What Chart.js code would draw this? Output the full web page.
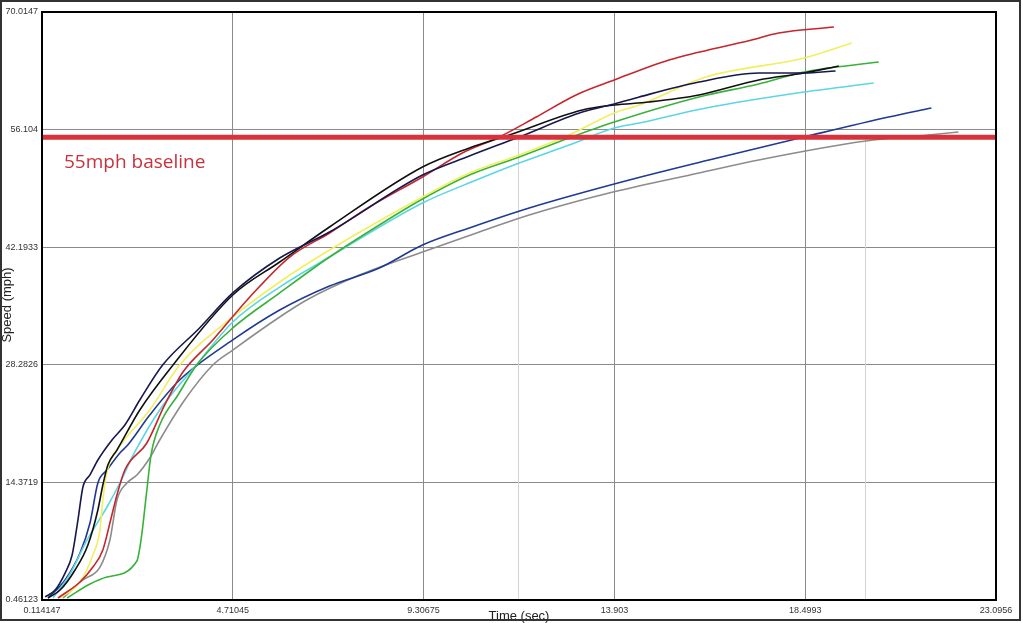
<!DOCTYPE html>
<html>
<head>
<meta charset="utf-8">
<script src="https://cdn.jsdelivr.net/npm/chart.js@4"></script>
<style>
  html, body { margin: 0; padding: 0; background: #fff; }
  #wrap { width: 1023px; height: 623px; }
</style>
</head>
<body>
<div id="wrap"><canvas id="runChart" width="1023" height="623"></canvas></div>
<script>
/* speed vs time runs, [time sec, speed mph] */

const X_TICKS = [0.114147, 4.71045, 9.30675, 13.903, 18.4993, 23.0956];
const Y_TICKS = [0.46123, 14.3719, 28.2826, 42.1933, 56.104, 70.0147];

const BASELINE_MPH = 55.2;
const BASELINE_LABEL = '55mph baseline';
const MARKER_TIMES = [11.58, 19.93];

const redRun = [
  [0.50,0.70],[1.03,2.59],[1.34,4.36],[1.58,6.38],[1.75,9.57],[1.92,12.88],[2.11,15.84],
  [2.64,19.03],[3.07,23.53],[3.51,27.43],[4.23,31.22],[5.12,36.30],[6.08,41.03],[7.04,43.87],
  [8.00,46.95],[9.28,50.50],[10.24,53.34],[11.13,55.23],[12.02,57.59],[12.98,60.20],
  [13.90,61.97],[15.22,64.34],[17.21,66.70],[17.86,67.53],[19.19,68.24]
];
const yellowRun = [
  [0.55,0.70],[1.03,2.59],[1.34,5.78],[1.51,8.74],[1.58,12.29],[1.65,14.89],[1.75,16.78],
  [2.06,19.15],[2.71,22.94],[3.43,28.26],[4.71,33.94],[5.84,38.08],[7.04,41.86],[9.28,48.13],
  [10.41,50.97],[11.61,53.10],[12.81,55.46],[13.90,58.07],[14.50,59.01],[16.11,62.33],
  [18.47,64.57],[19.62,66.35]
];
const greenRun = [
  [0.72,0.70],[1.27,2.35],[1.68,3.18],[2.40,5.07],[2.50,7.56],[2.64,13.47],[2.74,17.61],
  [2.95,21.16],[3.39,24.71],[3.84,28.26],[4.71,32.64],[5.84,36.78],[7.04,41.03],[8.24,44.82],
  [9.28,47.89],[10.41,50.73],[11.61,52.86],[12.81,55.11],[13.90,57.00],[15.94,59.96],
  [17.38,61.50],[18.47,62.92],[20.27,64.10]
];
const cyanRun = [
  [0.38,0.70],[0.79,3.54],[1.20,7.56],[1.68,11.46],[1.99,14.30],[2.35,17.97],[2.95,22.94],
  [3.79,28.02],[4.71,33.35],[5.84,37.48],[7.04,41.03],[9.28,47.42],[10.58,50.14],[11.61,52.15],
  [12.81,54.28],[13.90,56.29],[14.50,56.88],[16.11,58.66],[18.47,60.55],[20.15,61.61]
];
const blueRun = [
  [0.26,0.70],[0.67,2.83],[1.03,6.02],[1.27,9.57],[1.46,14.30],[1.68,15.84],[1.99,17.85],
  [2.18,18.80],[2.71,22.34],[3.43,26.48],[4.71,31.22],[5.84,34.76],[7.04,37.60],[8.24,39.73],
  [9.28,42.45],[10.41,44.47],[11.85,46.83],[14.26,50.14],[16.18,52.51],[18.47,55.23],
  [20.51,57.59],[21.54,58.66]
];
const grayRun = [
  [0.62,0.70],[1.10,2.83],[1.51,4.36],[1.75,7.56],[1.92,12.29],[2.16,14.30],[2.40,15.25],
  [2.71,17.26],[2.95,19.39],[3.55,24.12],[4.23,28.26],[4.71,30.03],[5.84,33.94],[6.49,35.95],
  [7.76,38.90],[9.28,41.62],[10.65,43.99],[11.85,46.00],[13.87,48.72],[15.94,50.97],
  [17.38,52.51],[19.96,54.75],[21.47,55.46],[22.19,55.82]
];
const navyRun = [
  [0.19,0.82],[0.43,1.64],[0.67,3.65],[0.84,5.78],[0.98,9.92],[1.10,13.83],[1.27,15.25],
  [1.46,17.02],[1.80,19.39],[2.11,21.16],[2.47,24.12],[3.02,28.26],[3.91,32.64],[4.71,36.78],
  [5.84,40.91],[7.04,43.99],[9.28,50.73],[10.41,52.98],[11.61,55.23],[13.13,58.18],
  [13.90,59.13],[14.50,59.96],[15.94,61.73],[17.38,62.80],[18.47,62.80],[19.23,63.04]
];
const blackRun = [
  [0.26,0.70],[0.55,1.64],[0.91,4.01],[1.22,6.97],[1.46,11.11],[1.58,14.06],[1.70,16.43],
  [1.92,18.20],[2.47,22.94],[3.27,28.26],[4.71,36.54],[5.84,40.44],[7.04,44.58],[9.28,51.68],
  [10.41,53.93],[11.37,55.46],[13.13,58.42],[13.90,59.01],[14.74,59.37],[15.94,60.20],
  [17.38,61.97],[18.47,62.80],[19.31,63.63]
];

const RUNS = [
  { pts: grayRun,   color: '#8c8c8c' },
  { pts: blueRun,   color: '#1f3a94' },
  { pts: cyanRun,   color: '#5cd6e4' },
  { pts: greenRun,  color: '#38b238' },
  { pts: yellowRun, color: '#f2ef5c' },
  { pts: redRun,    color: '#c4262c' },
  { pts: blackRun,  color: '#101010' },
  { pts: navyRun,   color: '#17174e' }
];

const toXY = pts => pts.map(([x, y]) => ({ x, y }));

const datasets = [{
  label: 'baseline',
  data: [{ x: X_TICKS[0], y: BASELINE_MPH }, { x: X_TICKS[X_TICKS.length - 1], y: BASELINE_MPH }],
  borderColor: '#d8323c', borderWidth: 5, pointRadius: 0
}];
// dataset 0 ends up on top, so push in reverse of RUNS order
RUNS.slice().reverse().forEach((r, i) => {
  datasets.push({
    label: 'run' + i, data: toXY(r.pts),
    borderColor: r.color, borderWidth: 1.6, pointRadius: 0,
    cubicInterpolationMode: 'monotone'
  });
});

const TICK_FONT = { family: "'Liberation Sans', Arial, sans-serif", size: 9 };

// extra drawing: faint markers, plot box, baseline text, axis titles, outer frame
const decor = {
  id: 'decor',
  beforeDatasetsDraw(chart) {
    const { ctx, scales: { x, y }, chartArea } = chart;
    ctx.save();
    ctx.strokeStyle = '#d4d4d4';
    ctx.lineWidth = 1;
    MARKER_TIMES.forEach(t => {
      const px = Math.round(x.getPixelForValue(t)) + 0.5;
      ctx.beginPath();
      ctx.moveTo(px, y.getPixelForValue(BASELINE_MPH));
      ctx.lineTo(px, chartArea.bottom);
      ctx.stroke();
    });
    ctx.restore();
  },
  afterDatasetsDraw(chart) {
    const { ctx, chartArea: a, scales: { y } } = chart;
    ctx.save();
    ctx.strokeStyle = '#000';
    ctx.lineWidth = 2;
    ctx.strokeRect(a.left, a.top, a.right - a.left, a.bottom - a.top);

    ctx.fillStyle = '#c8323c';
    ctx.font = "19px 'Open Sans', sans-serif";
    ctx.textBaseline = 'middle';
    ctx.fillText(BASELINE_LABEL, a.left + 22, y.getPixelForValue(BASELINE_MPH) + 25);
    ctx.restore();
  },
  afterDraw(chart) {
    const { ctx, chartArea: a } = chart;
    ctx.save();
    ctx.fillStyle = '#222';
    ctx.font = "13px 'Liberation Sans', Arial, sans-serif";
    ctx.textAlign = 'center';
    ctx.textBaseline = 'middle';
    ctx.fillText('Time (sec)', (a.left + a.right) / 2, 616);
    ctx.translate(7, 305);
    ctx.rotate(-Math.PI / 2);
    ctx.fillText('Speed (mph)', 0, 0);
    ctx.restore();

    ctx.save();
    ctx.strokeStyle = '#333';
    ctx.lineWidth = 2;
    ctx.strokeRect(1, 1, 1019, 619);
    ctx.restore();
  }
};

new Chart(document.getElementById('runChart'), {
  type: 'line',
  data: { datasets },
  options: {
    responsive: false,
    devicePixelRatio: 1,
    animation: false,
    events: [],
    layout: { padding: { top: 12, right: 27, left: 0, bottom: 0 } },
    plugins: { legend: { display: false }, tooltip: { enabled: false } },
    scales: {
      x: {
        type: 'linear',
        min: X_TICKS[0], max: X_TICKS[X_TICKS.length - 1],
        afterBuildTicks: s => { s.ticks = X_TICKS.map(v => ({ value: v })); },
        afterFit: s => { s.height = 23; },
        grid: { color: '#8a8a8a', lineWidth: 1, drawTicks: false },
        border: { display: false },
        ticks: { callback: v => String(v), color: '#333', font: TICK_FONT, padding: 5, maxRotation: 0, autoSkip: false }
      },
      y: {
        type: 'linear',
        min: Y_TICKS[0], max: Y_TICKS[Y_TICKS.length - 1],
        afterBuildTicks: s => { s.ticks = Y_TICKS.map(v => ({ value: v })); },
        afterFit: s => { s.width = 42; },
        grid: { color: '#8a8a8a', lineWidth: 1, drawTicks: false },
        border: { display: false },
        ticks: { callback: v => String(v), color: '#333', font: TICK_FONT, padding: 4, autoSkip: false }
      }
    }
  },
  plugins: [decor]
});
</script>
</body>
</html>
